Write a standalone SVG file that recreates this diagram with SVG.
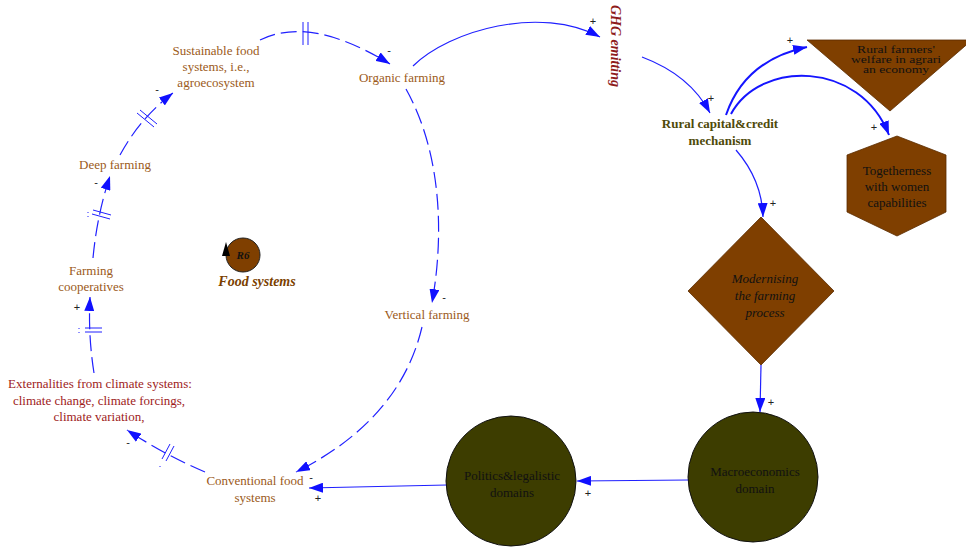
<svg xmlns="http://www.w3.org/2000/svg" width="966" height="548" viewBox="0 0 966 548">
<style>
.lbl{font-family:"Liberation Serif","Times New Roman",serif;font-size:13px;fill:#9B5A1A;text-anchor:middle}
.red{fill:#9E1B1B}
.blk{fill:#111}
.sgn{font-family:"Liberation Sans",Arial,sans-serif;font-size:11px;fill:#222;text-anchor:middle}
.dash{fill:none;stroke:#2020FF;stroke-width:1.2;stroke-dasharray:16 6}
.solid{fill:none;stroke:#2020FF;stroke-width:1.2}
.thick{fill:none;stroke:#1515FF;stroke-width:2}
.dm{fill:none;stroke:#2020FF;stroke-width:1}
.brown{fill:#7F3F00;stroke:#5a2c00;stroke-width:0.8}
.olive{fill:#3D3D00;stroke:#111;stroke-width:1}
</style>
<defs>
<marker id="ah" markerUnits="userSpaceOnUse" markerWidth="14" markerHeight="10" refX="14" refY="5" orient="auto">
<path d="M0,0 L14,5 L0,10 z" fill="#1010FF"/>
</marker>
</defs>
<rect width="966" height="548" fill="#fff"/>

<g id="connectors">
<path class="dash" d="M260 40 Q310 15 390 64" marker-end="url(#ah)"/>
<path class="dm" d="M303 22 V45 M308 22 V45"/>
<path class="dash" d="M120 155 Q140 118 173 93" marker-end="url(#ah)"/>
<path class="dm" d="M137 113 L154 127 M140 110 L157 124"/>
<path class="dash" d="M93 258 Q97 215 110 176" marker-end="url(#ah)"/>
<path class="dm" d="M92 214 L110 219 M93 210 L111 215 M88 212 v1 M88 216 v1"/>
<path class="dash" d="M94 373 Q88 335 90 297" marker-end="url(#ah)"/>
<path class="dm" d="M85 328 H102 M85 332 H102 M79 328 v1 M79 332 v1"/>
<path class="dash" d="M205 472 Q165 455 127 430" marker-end="url(#ah)"/>
<path class="dm" d="M162 459 L170 444 M166 461 L174 446 M160 466 v1"/>
<path class="dash" d="M406 89 C440 150 445 230 432 303" marker-end="url(#ah)"/>
<path class="dash" d="M422 327 Q400 420 296 472" marker-end="url(#ah)"/>
<path class="solid" d="M447 485 L309 488" marker-end="url(#ah)"/>
<path class="solid" d="M689 480 L577 481" marker-end="url(#ah)"/>
<path class="solid" d="M761 365 L760 412" marker-end="url(#ah)"/>
<path class="solid" d="M413 66 C450 30 540 5 600 37" marker-end="url(#ah)"/>
<path class="solid" d="M642 57 Q690 75 710 113" marker-end="url(#ah)"/>
<path class="solid" d="M736 150 Q762 180 763 217" marker-end="url(#ah)"/>
<path class="thick" d="M726 115 Q745 60 807 47" marker-end="url(#ah)"/>
<path class="thick" d="M731 114 C760 60 860 60 889 135" marker-end="url(#ah)"/>
<text class="sgn" x="389" y="54">-</text>
<text class="sgn" x="157" y="93">-</text>
<text class="sgn" x="96" y="186">-</text>
<text class="sgn" x="77" y="311">+</text>
<text class="sgn" x="128" y="446">-</text>
<text class="sgn" x="444" y="301">-</text>
<text class="sgn" x="311" y="481">-</text>
<text class="sgn" x="318" y="502">+</text>
<text class="sgn" x="588" y="497">+</text>
<text class="sgn" x="771" y="406">+</text>
<text class="sgn" x="593" y="25">+</text>
<text class="sgn" x="711" y="102">+</text>
<text class="sgn" x="773" y="207">+</text>
<text class="sgn" x="790" y="44">+</text>
<text class="sgn" x="874" y="131">+</text>
</g>

<g id="sustainable"><text class="lbl" x="216" y="55">Sustainable food</text><text class="lbl" x="216" y="71">systems, i.e.,</text><text class="lbl" x="216" y="87">agroecosystem</text></g>
<g id="organic"><text class="lbl" x="402" y="82">Organic farming</text></g>
<g id="deep"><text class="lbl" x="115" y="169">Deep farming</text></g>
<g id="coop"><text class="lbl" x="91" y="275">Farming</text><text class="lbl" x="91" y="291">cooperatives</text></g>
<g id="externalities"><text class="lbl red" x="100" y="388">Externalities from climate systems:</text><text class="lbl red" x="99" y="405">climate change, climate forcings,</text><text class="lbl red" x="99" y="421">climate variation,</text></g>
<g id="conventional"><text class="lbl" x="255" y="485">Conventional food</text><text class="lbl" x="255" y="502">systems</text></g>
<g id="vertical"><text class="lbl" x="427" y="319">Vertical farming</text></g>

<g id="r6">
<circle cx="243" cy="255" r="17" fill="#7F3F00" stroke="#222" stroke-width="1"/>
<polygon points="222,256 226,242 230,256" fill="#000"/>
<text x="243" y="259" font-family="Liberation Serif,serif" font-size="11" font-weight="bold" font-style="italic" fill="#111" text-anchor="middle">R6</text>
<text x="257" y="286" font-family="Liberation Serif,serif" font-size="14" font-weight="bold" font-style="italic" fill="#7B3F00" text-anchor="middle">Food systems</text>
</g>

<g id="ghg"><text transform="translate(611 46) rotate(90)" font-family="Liberation Serif,serif" font-size="14" font-weight="bold" font-style="italic" fill="#8E1B1B" text-anchor="middle">GHG emitting</text></g>

<g id="rural-capital"><text x="720" y="128" font-family="Liberation Serif,serif" font-size="13" font-weight="bold" fill="#4F4A0A" text-anchor="middle">Rural capital&amp;credit</text><text x="720" y="145" font-family="Liberation Serif,serif" font-size="13" font-weight="bold" fill="#4F4A0A" text-anchor="middle">mechanism</text></g>

<g id="welfare">
<polygon class="brown" points="807,40 972,40 890,111"/>
<g transform="translate(896 0) scale(1.05 0.72)">
<text class="lbl blk" x="0" y="73.6" font-size="12.5">Rural farmers'</text>
<text class="lbl blk" x="0" y="87.5" font-size="12.5">welfare in agrari</text>
<text class="lbl blk" x="0" y="101.4" font-size="12.5">an economy</text>
</g>
</g>

<g id="togetherness">
<polygon class="brown" points="897,136 946,155 946,212 897,236 847,212 847,155"/>
<text class="lbl blk" x="897" y="175">Togetherness</text>
<text class="lbl blk" x="897" y="191">with women</text>
<text class="lbl blk" x="897" y="207">capabilities</text>
</g>

<g id="modernising">
<polygon class="brown" points="761,217 834,291 761,365 688,291"/>
<text class="lbl blk" x="765" y="283" font-style="italic" font-size="14">Modernising</text>
<text class="lbl blk" x="765" y="300" font-style="italic" font-size="14">the farming</text>
<text class="lbl blk" x="765" y="317" font-style="italic" font-size="14">process</text>
</g>

<g id="macro">
<circle class="olive" cx="753" cy="477" r="65"/>
<text class="lbl blk" x="755" y="476">Macroeconomics</text>
<text class="lbl blk" x="755" y="493">domain</text>
</g>

<g id="politics">
<circle class="olive" cx="511" cy="481" r="65"/>
<text class="lbl blk" x="512" y="480" font-size="12.5">Politics&amp;legalistic</text>
<text class="lbl blk" x="512" y="497" font-size="12.5">domains</text>
</g>
</svg>
